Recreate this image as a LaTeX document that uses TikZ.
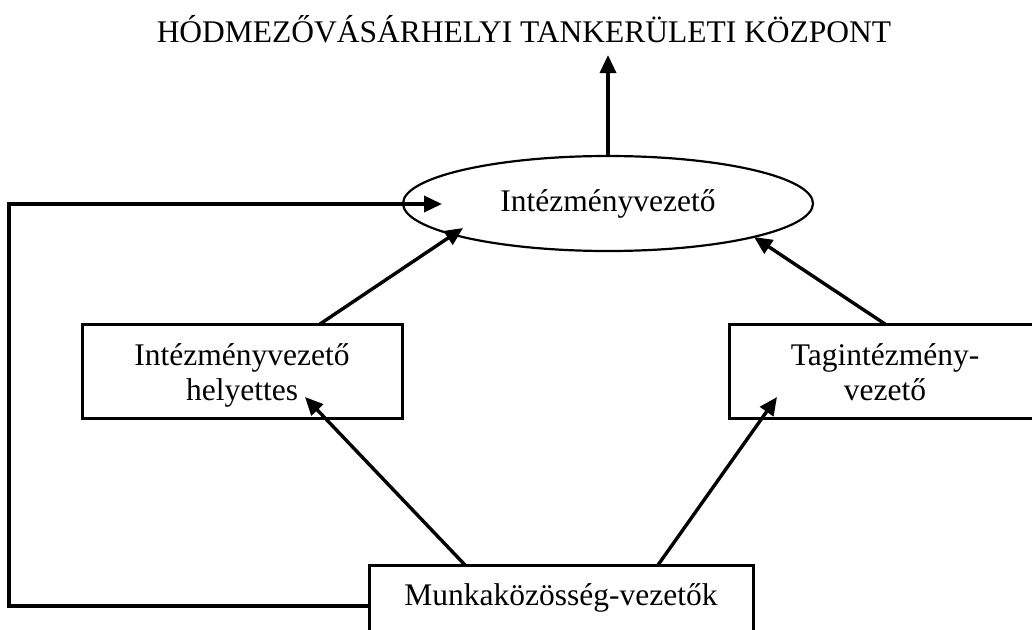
\documentclass[tikz,border=0pt]{standalone}
\usepackage{fontspec}
\setmainfont{Liberation Serif}
\usetikzlibrary{arrows.meta,shapes.geometric}
\begin{document}
\begin{tikzpicture}[x=1pt,y=-1pt,
  lbl/.style={font=\fontsize{31.5}{35}\selectfont},
  box/.style={draw,line width=3pt,inner sep=0pt,outer sep=0pt,align=center,lbl},
  conn/.style={line width=3.4pt,-{Triangle[length=18pt,width=16pt]}}]
\useasboundingbox (0,0) rectangle (1032,629);
\node[lbl,anchor=base] (title) at (524,42) {HÓDMEZŐVÁSÁRHELYI TANKERÜLETI KÖZPONT};
\node[draw,ellipse,line width=2.2pt,minimum width=410pt,minimum height=95pt,inner sep=0pt,outer sep=0pt,lbl] (iv) at (608,203.5) {Intézményvezető};
\node[box,minimum width=320pt,text height=76pt,text depth=18pt] (lb) at (242,371) {Intézményvezető\\helyettes};
\node[box,minimum width=312pt,text height=76pt,text depth=18pt] (rb) at (885,371) {Tagintézmény-\\vezető};
\node[box,minimum width=384pt,text height=40pt,text depth=42pt,anchor=north] (mk) at (561,565) {Munkaközösség-vezetők};
\coordinate (ttip) at (608,55);
\coordinate (ltip) at (463,228);
\coordinate (rtip) at (754,237);
\coordinate (lbtip) at (305,397);
\coordinate (rbtip) at (777,397);
\coordinate (c2) at (9,204);
\coordinate (looptip) at (442,204);
\draw[conn] (iv.north) -- (ttip);
\draw[conn] ([xshift=78pt]lb.north) -- (ltip);
\draw[conn] (rb.north) -- (rtip);
\draw[conn] ([xshift=-96pt]mk.north) -- (lbtip);
\draw[conn] ([xshift=97pt]mk.north) -- (rbtip);
\draw[conn] (mk.west) -- (mk.west -| c2) -- (c2) -- (looptip);
\end{tikzpicture}
\end{document}
